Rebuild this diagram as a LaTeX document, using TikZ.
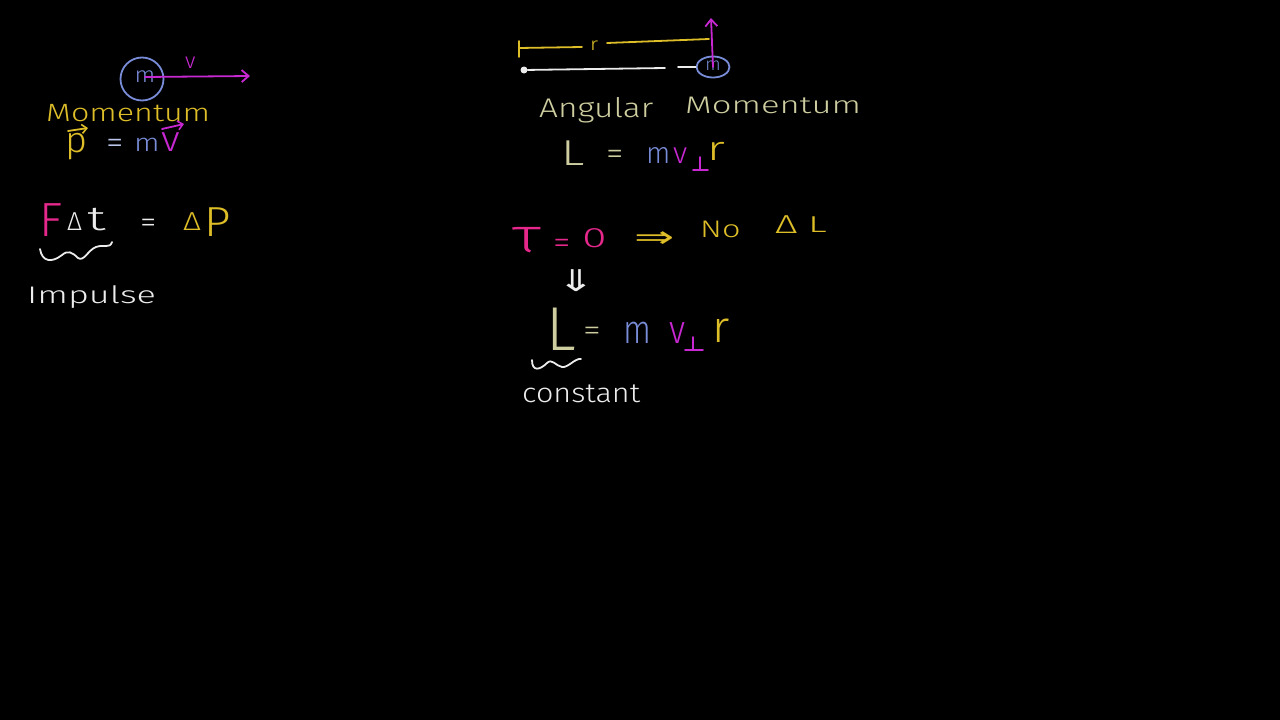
\documentclass[tikz,border=0pt]{standalone}
\usepackage{fontspec}
\usepackage{graphicx}
\setmainfont{Fira Sans}[UprightFont={* Light}]
\newfontfamily\symfont{DejaVu Sans}
\usetikzlibrary{arrows.meta,shapes.geometric}
\definecolor{kwhite}{RGB}{236,236,236}
\definecolor{kyellow}{RGB}{222,190,40}
\definecolor{kmag}{RGB}{200,40,210}
\definecolor{kblue}{RGB}{120,140,215}
\definecolor{kpink}{RGB}{230,40,140}
\definecolor{kbeige}{RGB}{205,205,160}
\newcommand{\wide}[2]{\scalebox{#1}[1]{#2}}
\newcommand{\fs}[1]{\fontsize{#1}{#1}\selectfont}
\tikzset{
  hw/.style={inner sep=0pt, anchor=base west, font=\fs{24}},
  stroke/.style={line width=1.8pt, line cap=round, line join=round},
  tip/.style={-{Straight Barb[length=7pt,width=12pt,line width=1.8pt]}},
  smalltip/.style={-{Straight Barb[length=5pt,width=9pt,line width=1.6pt]}}
}
\begin{document}
\begin{tikzpicture}[x=1pt,y=-1pt]
\fill[black] (0,0) rectangle (1280,720);
\useasboundingbox (0,0) rectangle (1280,720);

% ---------- top left: linear momentum ----------
\node[draw=kblue, stroke, circle, minimum size=43pt, inner sep=0pt] (m1) at (142,79) {};
\node[hw, anchor=center, text=kblue, font=\fs{22}] (m1t) at (145,77) {\wide{1.1}{m}};
\coordinate (v1end) at (250,76);
\draw[stroke, kmag, tip] (m1t.center) -- (v1end);
\node[hw, text=kmag, font=\fs{22}] (v1) at (185,68) {v};

\node[hw, text=kyellow, font=\fs{25}] (mom) at (46,121) {\wide{1.29}{Momentum}};

\node[hw, text=kyellow, font=\fs{36}] (p) at (65,152) {\wide{1.05}{p}};
\coordinate (pa1) at (68,131);
\coordinate (pa2) at (88,128);
\draw[stroke, kyellow, smalltip] (pa1) -- (pa2);
\node[hw, text=kblue!50!white, font=\fs{32}] (eq1) at (106,153) {\wide{1.1}{=}};
\node[hw, text=kblue, font=\fs{25}] (m2) at (134,151) {\wide{1.2}{m}};
\node[hw, text=kmag, font=\fs{36}] (v2) at (161,151) {\wide{1.1}{v}};
\coordinate (va1) at (162,129);
\coordinate (va2) at (184,124);
\draw[stroke, kmag, smalltip] (va1) -- (va2);

% ---------- impulse ----------
\node[hw, text=kpink, font=\fs{48}] (F) at (39,236) {F};
\node[hw, text=kwhite, font=\fs{26}] (Dd) at (67,230) {Δ};
\node[hw, text=kwhite, font=\fs{34}] (Dt) at (87,230) {\wide{1.6}{t}};
\node[hw, text=kwhite, font=\fs{30}] (eq2) at (140,232) {\wide{1.1}{=}};
\node[hw, text=kyellow, font=\fs{26}] (DPd) at (183,230) {\wide{1.2}{Δ}};
\node[hw, text=kyellow, font=\fs{42}] (DPp) at (204,236) {\wide{1.1}{P}};
\coordinate (sq1a) at (40,249);
\coordinate (sq1b) at (112,242);
\draw[stroke, kwhite] (sq1a) .. controls (42,262) and (52,263) .. (62,255)
  .. controls (68,250) and (72,252) .. (78,258)
  .. controls (84,262) and (88,250) .. (96,247)
  .. controls (104,244) and (110,249) .. (sq1b);
\node[hw, text=kwhite, font=\fs{24}] (imp) at (27,303) {\wide{1.5}{Impulse}};

% ---------- top right: rod diagram ----------
\coordinate (rt1) at (519,41);
\coordinate (rt2) at (519,57);
\coordinate (rl1) at (519,48);
\coordinate (rl2) at (582,47);
\coordinate (rr1) at (607,43);
\coordinate (rr2) at (709,39);
\draw[stroke, kyellow] (rt1) -- (rt2);
\draw[stroke, kyellow] (rl1) -- (rl2);
\draw[stroke, kyellow] (rr1) -- (rr2);
\node[hw, text=kyellow, font=\fs{18}] (rlab) at (590,50) {\wide{1.2}{r}};

\node[draw=kblue, stroke, ellipse, minimum width=33pt, minimum height=21pt, inner sep=0pt] (m3) at (713,67) {};
\node[hw, anchor=center, text=kblue, font=\fs{18}] (m3t) at (713,66) {m};
\coordinate (vtop) at (711,18);
\draw[stroke, kmag, tip] (m3.center) -- (vtop);
\node[fill=kwhite, circle, inner sep=0pt, minimum size=7pt] (pivot) at (524,70) {};
\coordinate (rod1) at (665,68);
\coordinate (rod2) at (678,67);
\draw[stroke, kwhite] (pivot) -- (rod1);
\draw[stroke, kwhite] (rod2) -- (m3.west);

\node[hw, text=kbeige, font=\fs{27}] (ang) at (539,117) {\wide{1.24}{Angular}};
\node[hw, text=kbeige, font=\fs{24}] (mom2) at (685,113) {\wide{1.44}{Momentum}};

% L = m v_perp r (first)
\node[hw, text=kbeige, font=\fs{36}] (L1) at (561,165) {\wide{1.35}{L}};
\node[hw, text=kbeige, font=\fs{32}] (eq3) at (606,164) {\wide{1.1}{=}};
\node[hw, text=kblue, font=\fs{30}] (m4) at (646,163) {\wide{0.95}{m}};
\node[hw, text=kmag, font=\fs{30}] (v4) at (673,163) {v};
\coordinate (pp1a) at (700,157);
\coordinate (pp1b) at (700,170);
\coordinate (pp1c) at (693,170);
\coordinate (pp1d) at (708,170);
\draw[stroke, kmag] (pp1a) -- (pp1b);
\draw[stroke, kmag] (pp1c) -- (pp1d);
\node[hw, text=kyellow, font=\fs{34}] (r4) at (707,160) {\wide{1.4}{r}};

% ---------- torque ----------
\node[hw, text=kpink, font=\fs{48}] (tau) at (512,252) {\wide{1.35}{τ}};
\node[hw, text=kpink, font=\fs{32}] (eq5) at (553,253) {\wide{1.1}{=}};
\node[hw, text=kpink, font=\fs{28}] (zero) at (582,247) {\wide{1.6}{0}};
\node[hw, text=kyellow, font=\symfont\fs{30}] (impl) at (634,247) {\wide{1.6}{⇒}};
\node[hw, text=kyellow, font=\fs{24}] (no) at (700,237) {\wide{1.35}{No}};
\node[hw, text=kyellow, font=\fs{26}] (DLd) at (775,233) {\wide{1.5}{Δ}};
\node[hw, text=kyellow, font=\fs{23}] (DLl) at (808,232) {\wide{1.7}{L}};
\node[hw, anchor=center, text=kwhite, font=\symfont\fs{30}] (down) at (576,281) {\wide{1.5}{⇓}};

% L = m v_perp r (second)
\node[hw, text=kbeige, font=\fs{62}] (L2) at (546,350) {L};
\node[hw, text=kbeige, font=\fs{30}] (eq4) at (583,340) {\wide{1.2}{=}};
\node[hw, text=kblue, font=\fs{40}] (m5) at (623,343) {\wide{0.82}{m}};
\node[hw, text=kmag, font=\fs{40}] (v5) at (669,343) {\wide{0.85}{v}};
\coordinate (pp2a) at (693,337);
\coordinate (pp2b) at (693,350);
\coordinate (pp2c) at (685,350);
\coordinate (pp2d) at (703,350);
\draw[stroke, kmag] (pp2a) -- (pp2b);
\draw[stroke, kmag] (pp2c) -- (pp2d);
\node[hw, text=kyellow, font=\fs{44}] (r5) at (712,342) {\wide{1.05}{r}};

\coordinate (sq2a) at (532,360);
\coordinate (sq2b) at (581,359);
\draw[stroke, kwhite] (sq2a) .. controls (532,372) and (540,370) .. (547,363)
  .. controls (552,358) and (556,366) .. (562,367)
  .. controls (568,368) and (575,358) .. (sq2b);
\node[hw, text=kwhite, font=\fs{27}] (const) at (522,402) {\wide{1.13}{constant}};
\end{tikzpicture}
\end{document}
